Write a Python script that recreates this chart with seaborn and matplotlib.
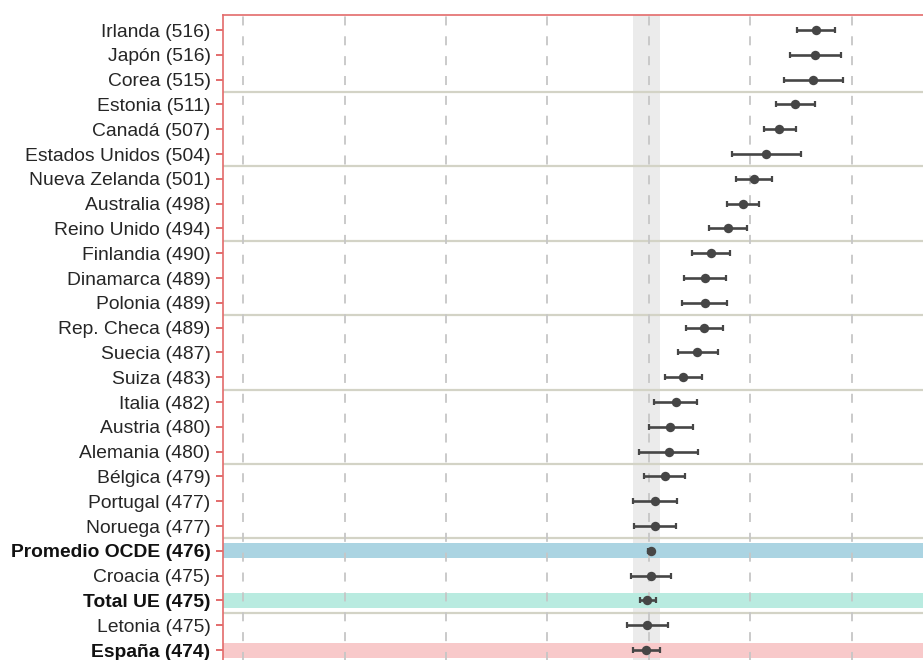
import matplotlib
matplotlib.use("Agg")
import matplotlib.pyplot as plt
import seaborn as sns
import pandas as pd

countries = ["Irlanda", "Japón", "Corea", "Estonia", "Canadá", "Estados Unidos",
             "Nueva Zelanda", "Australia", "Reino Unido", "Finlandia", "Dinamarca",
             "Polonia", "Rep. Checa", "Suecia", "Suiza", "Italia", "Austria",
             "Alemania", "Bélgica", "Portugal", "Noruega", "Promedio OCDE",
             "Croacia", "Total UE", "Letonia", "España"]
scores = [516, 516, 515, 511, 507, 504, 501, 498, 494, 490, 489, 489, 489, 487,
          483, 482, 480, 480, 479, 477, 477, 476, 475, 475, 475, 474]
means = [516.2, 515.9, 515.4, 511.1, 507.2, 503.9, 500.8, 498.1, 494.4, 490.3,
         488.8, 488.8, 488.7, 486.9, 483.4, 481.6, 480.3, 479.9, 478.9, 476.6,
         476.6, 475.4, 475.4, 474.6, 474.5, 474.3]
ci_low = [511.5, 509.7, 508.3, 506.4, 503.3, 495.6, 496.6, 494.2, 489.7, 485.7,
          483.6, 483.2, 484.2, 482.1, 478.9, 476.2, 475.0, 472.6, 473.8, 471.2,
          471.4, 474.8, 470.7, 472.7, 469.7, 471.1]
ci_high = [520.9, 522.3, 522.8, 515.9, 511.2, 512.6, 505.3, 502.2, 499.2, 494.9,
           494.1, 494.2, 493.2, 492.0, 488.0, 486.9, 485.8, 487.0, 484.0, 482.0,
           481.8, 476.0, 480.4, 476.7, 479.6, 477.8]
highlight = {"Promedio OCDE": "#abd4e2", "Total UE": "#b9ebe0", "España": "#f8c9ca"}
grid_ticks = [375, 400, 425, 450, 475, 500, 525, 550]

labels = [f"{c} ({s})" for c, s in zip(countries, scores)]
df = pd.DataFrame({"label": labels, "mean": means, "lo": ci_low, "hi": ci_high})

sns.set_theme(style="white")
plt.rcParams["font.family"] = ["Liberation Sans", "DejaVu Sans"]

W, H = 923, 660
fig = plt.figure(figsize=(W / 100, H / 100), dpi=100)
px_per_pt = 4.056
row_px = 24.8
xlim = (370, 550)
ylim = (25.62, -0.62)
ax_w = (xlim[1] - xlim[0]) * px_per_pt
ax_h = (ylim[0] - ylim[1]) * row_px
top_px = 14.7
ax = fig.add_axes([223 / W, 1 - (top_px + ax_h) / H, ax_w / W, ax_h / H])

red = "#e36b6b"
dark = "#464646"

# Spain confidence band
ax.axvspan(ci_low[-1], ci_high[-1], color="#ebebeb", zorder=0, lw=0)

# highlighted rows
for i, c in enumerate(countries):
    if c in highlight:
        ax.axhspan(i - 0.3, i + 0.3, color=highlight[c], zorder=1, lw=0)

# separators
for yv in [2.5, 5.5, 8.5, 11.5, 14.5, 17.5, 20.5, 23.5]:
    ax.axhline(yv, color="#d3d3c6", lw=1.6, zorder=1.5)

# dashed vertical grid
for g in grid_ticks:
    ax.axvline(g, color="#c6c6c6", lw=1.3, ls=(0, (5, 6)), zorder=2)

# error bars
ypos = list(range(len(countries)))
ax.errorbar(df["mean"], ypos,
            xerr=[df["mean"] - df["lo"], df["hi"] - df["mean"]],
            fmt="none", ecolor=dark, elinewidth=1.9, capsize=2.2, capthick=1.6,
            zorder=3)
sns.scatterplot(data=df, x="mean", y="label", ax=ax, color=dark, s=46,
                edgecolor=dark, linewidth=0, zorder=4, legend=False)

ax.set_xlim(*xlim)
ax.set_ylim(*ylim)
ax.set_xlabel("")
ax.set_ylabel("")
ax.set_xticks(grid_ticks)
ax.set_xticklabels([])
ax.tick_params(axis="x", length=0)
ax.set_yticks(ypos)
ax.set_yticklabels(labels, fontsize=13.9, color="#262626")
for t, c in zip(ax.get_yticklabels(), countries):
    if c in highlight:
        t.set_fontweight("bold")
        t.set_color("#111111")
ax.tick_params(axis="y", length=5, width=1.4, color=red, pad=4, left=True)
for name, sp in ax.spines.items():
    sp.set_color(red)
    sp.set_linewidth(1.2)
ax.spines["right"].set_visible(False)
ax.spines["bottom"].set_visible(False)

fig.savefig("out.png", dpi=100)
